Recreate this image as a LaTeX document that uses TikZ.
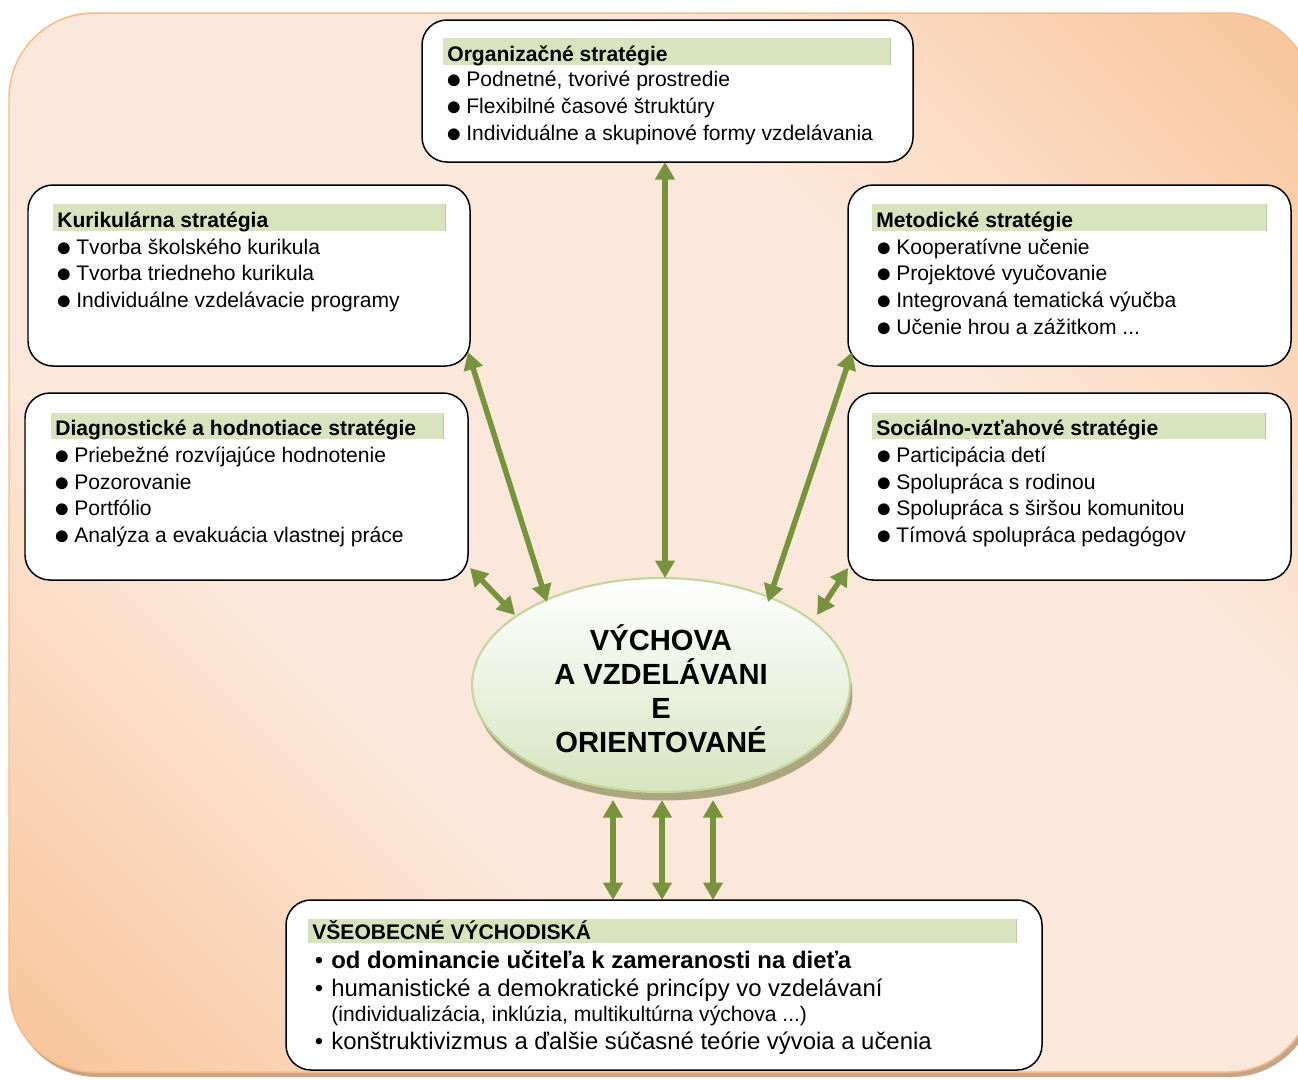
\documentclass[tikz,border=0pt]{standalone}
\usepackage{fontspec}
\setmainfont{Liberation Sans}
\usetikzlibrary{arrows.meta,shapes.geometric,shadings,fit}
\definecolor{bgsat}{HTML}{F9C397}
\definecolor{bglight}{HTML}{FCE8DA}
\definecolor{bgborder}{HTML}{F8BB88}
\definecolor{bgshadow}{HTML}{C9A385}
\definecolor{hdr}{HTML}{D7E4BD}
\definecolor{hdredge}{HTML}{BCC7A4}
\definecolor{arr}{HTML}{77933C}
\definecolor{ellfill}{HTML}{D6E5C0}
\definecolor{elledge}{HTML}{C3D69B}
\definecolor{ellshadow}{HTML}{ABA67F}
\pgfdeclarehorizontalshading{bgshade}{100bp}{color(0bp)=(bgsat); color(14bp)=(bgsat); color(36bp)=(bglight); color(64bp)=(bglight); color(86bp)=(bgsat); color(100bp)=(bgsat)}
\begin{document}
\begin{tikzpicture}[x=0.02cm,y=-0.02cm,
  box/.style={draw=black, line width=0.85pt, fill=white, rounded corners=0.5cm, inner sep=0pt},
  hdrband/.style={fill=hdr},
  hdrline/.style={draw=hdredge, line width=0.4pt},
  hdrtext/.style={anchor=base west, inner sep=0pt, font=\fontsize{12}{14}\selectfont\bfseries},
  item/.style={anchor=base west, inner sep=0pt, font=\fontsize{12}{14}\selectfont},
  bul/.style={anchor=base, inner sep=0pt, yshift=-1.4pt, font=\fontsize{15.6}{17}\selectfont},
  bitem/.style={anchor=base west, inner sep=0pt, font=\fontsize{13.6}{16}\selectfont},
  bbul/.style={anchor=base, inner sep=0pt, font=\fontsize{13.6}{16}\selectfont},
  elltext/.style={anchor=base, inner sep=0pt, font=\fontsize{16.6}{19}\selectfont\bfseries},
  conn/.style={draw=arr, line width=0.11cm, {Triangle[width=0.38cm,length=0.35cm]}-{Triangle[width=0.38cm,length=0.35cm]}},
]
\useasboundingbox (0,0) rectangle (1298,1079);
\clip (0,0) rectangle (1298,1079);
% background
\fill[bgshadow, rounded corners=1.7cm] (12,18) rectangle (1316,1077);
\shadedraw[shading=bgshade, shading angle=45, draw=bgborder, line width=0.85pt, rounded corners=1.7cm] (9,13) rectangle (1313,1072);

% ---------- boxes ----------
\node[box, fit={(422,20) (913,162)}] (org) {};
\node[box, fit={(28,185) (470,366)}] (kur) {};
\node[box, fit={(848,185) (1291,366)}] (met) {};
\node[box, fit={(25,393) (468,580)}] (diag) {};
\node[box, fit={(848,393) (1291,580)}] (soc) {};
\node[box, fit={(286,900) (1042,1070)}] (vse) {};

% header bands
\fill[hdrband] (443,38) rectangle (890,65);
\draw[hdrline] (890,38) -- (890,65);
\fill[hdrband] (53,204) rectangle (445,231);
\draw[hdrline] (445,204) -- (445,231);
\fill[hdrband] (872,204) rectangle (1266,231);
\draw[hdrline] (1266,204) -- (1266,231);
\fill[hdrband] (51,413) rectangle (443,439);
\draw[hdrline] (443,413) -- (443,439);
\fill[hdrband] (872,413) rectangle (1265,439);
\draw[hdrline] (1265,413) -- (1265,439);
\fill[hdrband] (308,919) rectangle (1016,943);
\draw[hdrline] (1016,919) -- (1016,943);

% Organizacne
\node[hdrtext] (orgh) at (447,61) {Organizačné stratégie};
\node[bul] (orgb1) at (454,86) {●};
\node[item] (orgt1) at (466,86) {Podnetné, tvorivé prostredie};
\node[bul] (orgb2) at (454,113) {●};
\node[item] (orgt2) at (466,113) {Flexibilné časové štruktúry};
\node[bul] (orgb3) at (454,140) {●};
\node[item] (orgt3) at (466,140) {Individuálne a skupinové formy vzdelávania};

% Kurikularna
\node[hdrtext] (kurh) at (57,227) {Kurikulárna stratégia};
\node[bul] (kurb1) at (64,254) {●};
\node[item] (kurt1) at (76,254) {Tvorba školského kurikula};
\node[bul] (kurb2) at (64,280) {●};
\node[item] (kurt2) at (76,280) {Tvorba triedneho kurikula};
\node[bul] (kurb3) at (64,307) {●};
\node[item] (kurt3) at (76,307) {Individuálne vzdelávacie programy};

% Metodicke
\node[hdrtext] (meth) at (876,227) {Metodické stratégie};
\node[bul] (metb1) at (884,254) {●};
\node[item] (mett1) at (896,254) {Kooperatívne učenie};
\node[bul] (metb2) at (884,280) {●};
\node[item] (mett2) at (896,280) {Projektové vyučovanie};
\node[bul] (metb3) at (884,307) {●};
\node[item] (mett3) at (896,307) {Integrovaná tematická výučba};
\node[bul] (metb4) at (884,334) {●};
\node[item] (mett4) at (896,334) {Učenie hrou a zážitkom ...};

% Diagnosticke
\node[hdrtext] (diagh) at (55,435) {Diagnostické a hodnotiace stratégie};
\node[bul] (diagb1) at (62,462) {●};
\node[item] (diagt1) at (74,462) {Priebežné rozvíjajúce hodnotenie};
\node[bul] (diagb2) at (62,489) {●};
\node[item] (diagt2) at (74,489) {Pozorovanie};
\node[bul] (diagb3) at (62,515) {●};
\node[item] (diagt3) at (74,515) {Portfólio};
\node[bul] (diagb4) at (62,542) {●};
\node[item] (diagt4) at (74,542) {Analýza a evakuácia vlastnej práce};

% Socialno
\node[hdrtext] (soch) at (876,435) {Sociálno-vzťahové stratégie};
\node[bul] (socb1) at (884,462) {●};
\node[item] (soct1) at (896,462) {Participácia detí};
\node[bul] (socb2) at (884,489) {●};
\node[item] (soct2) at (896,489) {Spolupráca s rodinou};
\node[bul] (socb3) at (884,515) {●};
\node[item] (soct3) at (896,515) {Spolupráca s širšou komunitou};
\node[bul] (socb4) at (884,542) {●};
\node[item] (soct4) at (896,542) {Tímová spolupráca pedagógov};

% Vseobecne
\node[hdrtext] (vseh) at (312,939) {VŠEOBECNÉ VÝCHODISKÁ};
\node[bbul] (vseb1) at (319,968) {•};
\node[bitem, font=\fontsize{13.6}{16}\selectfont\bfseries] (vset1) at (331,968) {od dominancie učiteľa k zameranosti na dieťa};
\node[bbul] (vseb2) at (319,996) {•};
\node[bitem] (vset2) at (331,996) {humanistické a demokratické princípy vo vzdelávaní};
\node[item] (vset2b) at (331,1021) {(individualizácia, inklúzia, multikultúrna výchova ...)};
\node[bbul] (vseb3) at (319,1049) {•};
\node[bitem] (vset3) at (331,1049) {konštruktivizmus a ďalšie súčasné teórie vývoia a učenia};

% ---------- ellipse ----------
\node[ellipse, fill=ellshadow, minimum width=7.54cm, minimum height=4.26cm, inner sep=0pt] (ellsh) at (664,694) {};
\node[ellipse, draw=elledge, line width=1.2pt, top color=white, bottom color=ellfill, minimum width=7.56cm, minimum height=4.28cm, inner sep=0pt] (ell) at (661,685) {};
\node[elltext] (e1) at (661,650) {VÝCHOVA};
\node[elltext] (e2) at (661,684) {A VZDELÁVANI};
\node[elltext] (e3) at (661,718) {E};
\node[elltext] (e4) at (661,752) {ORIENTOVANÉ};

% ---------- connectors ----------
\coordinate (a1s) at (665,162);  \coordinate (a1e) at (665,578);
\coordinate (a2s) at (468,352);  \coordinate (a2e) at (547,602);
\coordinate (a3s) at (470,568);  \coordinate (a3e) at (515,615);
\coordinate (a4s) at (852,352);  \coordinate (a4e) at (768,602);
\coordinate (a5s) at (848,568);  \coordinate (a5e) at (817,615);
\coordinate (a6s) at (613,800);  \coordinate (a6e) at (613,900);
\coordinate (a7s) at (662,800);  \coordinate (a7e) at (662,900);
\coordinate (a8s) at (713,800);  \coordinate (a8e) at (713,900);
\draw[conn] (a1s) -- (a1e);
\draw[conn] (a2s) -- (a2e);
\draw[conn] (a3s) -- (a3e);
\draw[conn] (a4s) -- (a4e);
\draw[conn] (a5s) -- (a5e);
\draw[conn] (a6s) -- (a6e);
\draw[conn] (a7s) -- (a7e);
\draw[conn] (a8s) -- (a8e);
\end{tikzpicture}
\end{document}
